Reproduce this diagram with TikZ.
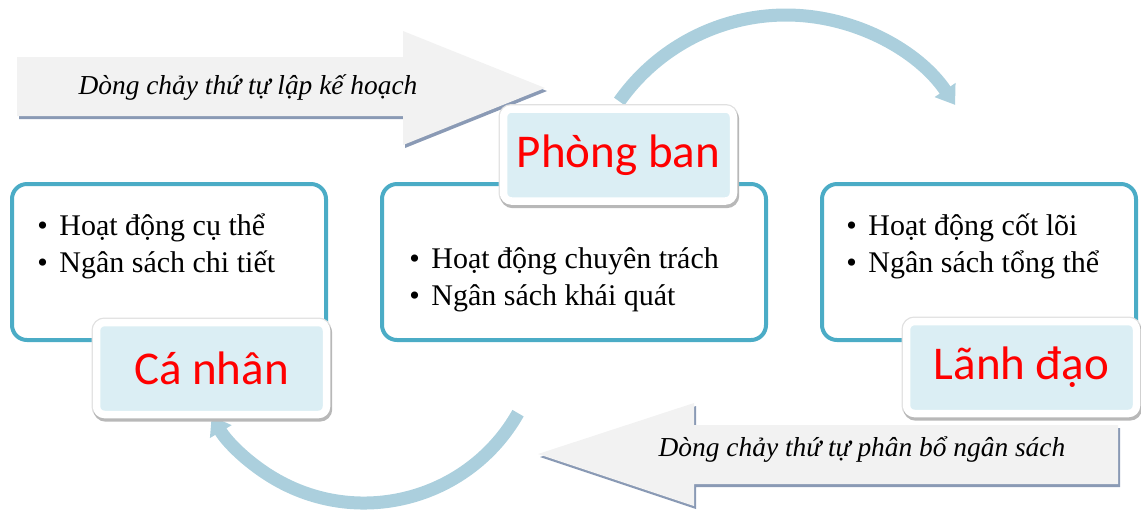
\documentclass[tikz,border=0pt]{standalone}
\usepackage{fontspec}
\setmainfont{Liberation Serif}
\newfontfamily\lblfont{Carlito}
\usetikzlibrary{arrows.meta}

\definecolor{boxline}{HTML}{4BACC6}
\definecolor{tagfill}{HTML}{DBEEF4}
\definecolor{flowblue}{HTML}{ABCFDD}
\definecolor{bandgray}{HTML}{F2F2F2}
\definecolor{bandedge}{HTML}{8A9AB5}

\begin{document}
\begin{tikzpicture}[x=0.5pt, y=-0.5pt,
  box/.style={draw=boxline, line width=2pt, rounded corners=7.5pt, fill=white, minimum height=78pt},
  tag/.style={fill=tagfill, draw=white, line width=3.75pt, rounded corners=4pt, minimum width=115pt, minimum height=46pt, inner sep=0pt, text=red, font=\lblfont\fontsize{23.5}{28}\selectfont,
    preaction={draw=black!12, line width=5pt},
    preaction={draw=black!28, fill=black!28, line width=4.5pt, transform canvas={xshift=0.6pt, yshift=-1.3pt}}},
  items/.style={align=left, inner sep=0pt, anchor=west, font=\fontsize{15}{18.5}\selectfont},
  flow/.style={line width=6.5pt, draw=flowblue, -{Triangle[width=12pt,length=9pt]}},
  band/.style={fill=bandgray},
  bandshadow/.style={fill=bandedge},
  lbl/.style={font=\itshape\fontsize{13.7}{16}\selectfont}
]
\useasboundingbox (0,0) rectangle (1141,511);

% the two wide flow arrows
\fill[bandshadow, shift={(2,3)}] (17,57) -- (403,57) -- (403,31) -- (545,88) -- (403,145) -- (403,116) -- (17,116) -- cycle;
\fill[band] (17,57) -- (403,57) -- (403,31) -- (545,88) -- (403,145) -- (403,116) -- (17,116) -- cycle;
\node[lbl] (plan) at (248,88) {Dòng chảy thứ tự lập kế hoạch};

\fill[bandshadow, shift={(2,3)}] (1118,425) -- (694,425) -- (694,403) -- (538,454) -- (694,506) -- (694,484) -- (1118,484) -- cycle;
\fill[band] (1118,425) -- (694,425) -- (694,403) -- (538,454) -- (694,506) -- (694,484) -- (1118,484) -- cycle;
\node[lbl] (alloc) at (862,450) {Dòng chảy thứ tự phân bổ ngân sách};

% curved arrows
\coordinate (topc) at (786,219);
\coordinate (botc) at (364,326);
\draw[flow] ([shift={(-144.8:204)}]topc) arc[start angle=-144.8, end angle=-34, radius=204];
\draw[flow] ([shift={(29.5:177)}]botc) arc[start angle=29.5, end angle=149.4, radius=177];

% content boxes
\node[box, minimum width=157pt] (left) at (169,262) {};
\node[box, minimum width=192pt] (mid) at (574,262) {};
\node[box, minimum width=157pt] (right) at (979,262) {};

\node[items] (leftitems) at (37,246) {\makebox[11pt][l]{\textbullet}Hoạt động cụ thể\\\makebox[11pt][l]{\textbullet}Ngân sách chi tiết};
\node[items] (miditems) at (409,280) {\makebox[11pt][l]{\textbullet}Hoạt động chuyên trách\\\makebox[11pt][l]{\textbullet}Ngân sách khái quát};
\node[items] (rightitems) at (846,246) {\makebox[11pt][l]{\textbullet}Hoạt động cốt lõi\\\makebox[11pt][l]{\textbullet}Ngân sách tổng thể};

% level tags
\node[tag] (pb) at (618.5,155) {Phòng ban};
\node[tag] (cn) at (211.5,368.5) {Cá nhân};
\node[tag] (ld) at (1021.5,367.5) {Lãnh đạo};
\end{tikzpicture}
\end{document}
